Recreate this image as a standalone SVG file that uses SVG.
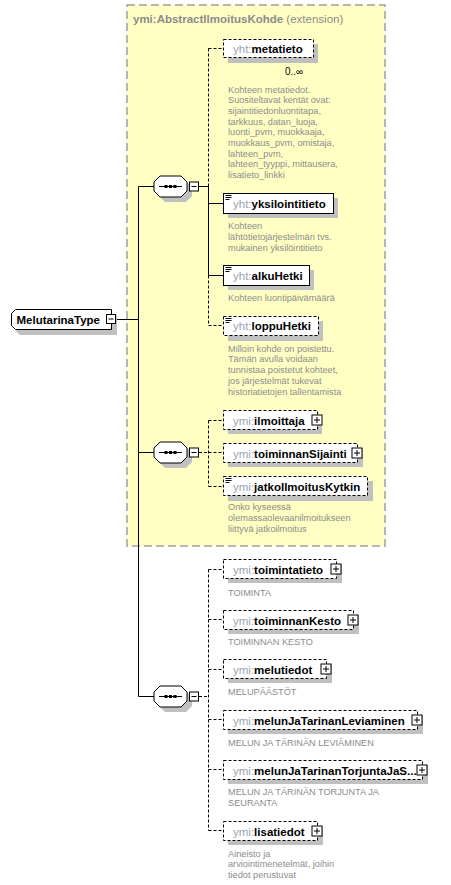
<svg xmlns="http://www.w3.org/2000/svg" width="451" height="885" viewBox="0 0 451 885">
<style>
.bg{fill:#ffffff}
.ext{fill:#ffffc4;stroke:#a0a0a0;stroke-width:1.5;stroke-dasharray:8,4}
.sh{fill:#c0c0c0;stroke:none}
.box{fill:#ffffff;stroke:#000;stroke-width:1}
.opt{fill:#ffffff;stroke:#000;stroke-width:1;stroke-dasharray:3,2}
.ln{stroke:#000;stroke-width:1;fill:none}
.dl{stroke:#000;stroke-width:1;fill:none;stroke-dasharray:3,2}
.lbl{font-family:"Liberation Sans",Arial,sans-serif;font-size:11.5px;font-weight:bold;fill:#000}
.pre{font-weight:normal;fill:#98a2b3}
.desc{font-family:"Liberation Sans",Arial,sans-serif;font-size:9.2px;fill:#8c8c8c}
.ttl{font-family:"Liberation Sans",Arial,sans-serif;font-size:11.5px;fill:#8c8c8c}
.icon{stroke:#000;stroke-width:1}
</style>
<defs>
<g id="seq">
<polygon class="sh" points="165,186 186,186 192,192 192,201 186,207 165,207 159,201 159,192"/>
<polygon class="box" points="160,181 181,181 187,187 187,196 181,202 160,202 154,196 154,187"/>
<line class="ln" x1="159" y1="191.5" x2="182" y2="191.5"/>
<rect x="164.5" y="190" width="3" height="3" fill="#000"/>
<rect x="169" y="190" width="3" height="3" fill="#000"/>
<rect x="173.5" y="190" width="3" height="3" fill="#000"/>
<rect class="box" x="189.5" y="187" width="9" height="9"/>
<line class="ln" x1="191.5" y1="191.5" x2="196.5" y2="191.5"/>
</g>
<g id="plus">
<rect class="box" x="-5" y="-5" width="10" height="10"/>
<line class="ln" x1="-3" y1="0" x2="3" y2="0"/>
<line class="ln" x1="0" y1="-3" x2="0" y2="3"/>
</g>
<g id="simp">
<line class="icon" x1="2" y1="2" x2="8" y2="2"/>
<line class="icon" x1="2" y1="4" x2="8" y2="4"/>
<line class="icon" x1="2" y1="6" x2="6" y2="6"/>
</g>
</defs>
<rect class="bg" x="0" y="0" width="451" height="885"/>

<g id="extension">
<rect class="ext" x="127" y="5" width="258" height="541"/>
<text class="ttl" x="133" y="23"><tspan font-weight="bold">ymi:AbstractIlmoitusKohde</tspan> (extension)</text>
</g>

<g id="connectors">
<line class="ln" x1="116" y1="319.5" x2="138.5" y2="319.5"/>
<line class="ln" x1="138.5" y1="186.5" x2="138.5" y2="696.5"/>
<line class="ln" x1="138.5" y1="186.5" x2="154" y2="186.5"/>
<line class="ln" x1="138.5" y1="452.5" x2="154" y2="452.5"/>
<line class="ln" x1="138.5" y1="696.5" x2="154" y2="696.5"/>
<line class="ln" x1="199" y1="186.5" x2="208.5" y2="186.5"/>
<line class="dl" x1="208.5" y1="48.5" x2="208.5" y2="186.5"/>
<line class="ln" x1="208.5" y1="186.5" x2="208.5" y2="275.5"/>
<line class="dl" x1="208.5" y1="275.5" x2="208.5" y2="325.5"/>
<line class="dl" x1="208.5" y1="48.5" x2="223" y2="48.5"/>
<line class="ln" x1="208.5" y1="203.5" x2="223" y2="203.5"/>
<line class="ln" x1="208.5" y1="275.5" x2="223" y2="275.5"/>
<line class="dl" x1="208.5" y1="325.5" x2="223" y2="325.5"/>
<line class="dl" x1="199" y1="452.5" x2="208.5" y2="452.5"/>
<line class="dl" x1="208.5" y1="420.5" x2="208.5" y2="486.5"/>
<line class="dl" x1="208.5" y1="420.5" x2="223" y2="420.5"/>
<line class="dl" x1="208.5" y1="452.5" x2="223" y2="452.5"/>
<line class="dl" x1="208.5" y1="486.5" x2="223" y2="486.5"/>
<line class="dl" x1="199" y1="696.5" x2="208.5" y2="696.5"/>
<line class="dl" x1="208.5" y1="569.5" x2="208.5" y2="830.5"/>
<line class="dl" x1="208.5" y1="569.5" x2="223" y2="569.5"/>
<line class="dl" x1="208.5" y1="619.5" x2="223" y2="619.5"/>
<line class="dl" x1="208.5" y1="669.5" x2="223" y2="669.5"/>
<line class="dl" x1="208.5" y1="719.5" x2="223" y2="719.5"/>
<line class="dl" x1="208.5" y1="769.5" x2="223" y2="769.5"/>
<line class="dl" x1="208.5" y1="830.5" x2="223" y2="830.5"/>
</g>

<g id="MelutarinaType">
<polygon class="sh" points="20,315 117,315 117,335 20,335 16,331 16,319"/>
<polygon class="box" points="15.5,309.5 111.5,309.5 111.5,329.5 15.5,329.5 11.5,325.5 11.5,313.5"/>
<text class="lbl" x="16.5" y="323.5">MelutarinaType</text>
<rect class="box" x="106.5" y="314.5" width="9" height="9"/>
<line class="ln" x1="108.5" y1="319" x2="113.5" y2="319"/>
</g>

<g id="seq1"><use href="#seq" transform="translate(0,-5)"/></g>
<g id="seq2"><use href="#seq" transform="translate(0,261)"/></g>
<g id="seq3"><use href="#seq" transform="translate(0,505)"/></g>

<g id="metatieto">
<rect class="sh" x="228" y="44" width="90" height="19"/>
<rect class="opt" x="223.5" y="39.5" width="90" height="18"/>
<text class="lbl" x="233" y="52.5"><tspan class="pre">yht:</tspan>metatieto</text>
<text x="285" y="75" font-family="Liberation Sans,Arial,sans-serif" font-size="10" fill="#000">0..∞</text>
<text class="desc"><tspan x="228" y="92.5">Kohteen metatiedot.</tspan><tspan x="228" y="103.2">Suositeltavat kentät ovat:</tspan><tspan x="228" y="113.9">sijaintitiedonluontitapa,</tspan><tspan x="228" y="124.6">tarkkuus, datan_luoja,</tspan><tspan x="228" y="135.3">luonti_pvm, muokkaaja,</tspan><tspan x="228" y="146">muokkaus_pvm, omistaja,</tspan><tspan x="228" y="156.7">lahteen_pvm,</tspan><tspan x="228" y="167.4">lahteen_tyyppi, mittausera,</tspan><tspan x="228" y="178.1">lisatieto_linkki</tspan></text>
</g>

<g id="yksilointitieto">
<rect class="sh" x="228" y="198" width="110" height="20"/>
<rect class="box" x="223.5" y="193.5" width="110" height="20"/>
<use href="#simp" transform="translate(223.5,193.5)"/>
<text class="lbl" x="233" y="207.5"><tspan class="pre">yht:</tspan>yksilointitieto</text>
<text class="desc"><tspan x="228" y="229">Kohteen</tspan><tspan x="228" y="240">lähtötietojärjestelmän  tvs.</tspan><tspan x="228" y="251">mukainen yksilöintitieto</tspan></text>
</g>

<g id="alkuHetki">
<rect class="sh" x="228" y="270" width="86" height="20"/>
<rect class="box" x="223.5" y="265.5" width="86" height="20"/>
<use href="#simp" transform="translate(223.5,265.5)"/>
<text class="lbl" x="233" y="279.5"><tspan class="pre">yht:</tspan>alkuHetki</text>
<text class="desc" x="228" y="301">Kohteen luontipäivämäärä</text>
</g>

<g id="loppuHetki">
<rect class="sh" x="228" y="321" width="95" height="20"/>
<rect class="opt" x="223.5" y="316.5" width="95" height="19"/>
<use href="#simp" transform="translate(223.5,316.5)"/>
<text class="lbl" x="233" y="330"><tspan class="pre">yht:</tspan>loppuHetki</text>
<text class="desc"><tspan x="228" y="351.5">Milloin kohde on poistettu.</tspan><tspan x="228" y="362.3">Tämän avulla voidaan</tspan><tspan x="228" y="373.1">tunnistaa poistetut kohteet,</tspan><tspan x="228" y="383.9">jos järjestelmät tukevat</tspan><tspan x="228" y="394.7">historiatietojen tallentamista</tspan></text>
</g>

<g id="ilmoittaja">
<rect class="sh" x="228" y="415" width="94" height="19"/>
<rect class="opt" x="223.5" y="410.5" width="94" height="19"/>
<text class="lbl" x="233" y="424.5"><tspan class="pre">ymi:</tspan>ilmoittaja</text>
<use href="#plus" transform="translate(317,420)"/>
</g>

<g id="toiminnanSijainti">
<rect class="sh" x="228" y="448" width="135" height="19"/>
<rect class="opt" x="223.5" y="443.5" width="134" height="19"/>
<text class="lbl" x="233" y="457.5"><tspan class="pre">ymi:</tspan>toiminnanSijainti</text>
<use href="#plus" transform="translate(357,453)"/>
</g>

<g id="jatkoIlmoitusKytkin">
<rect class="sh" x="228" y="481" width="145" height="20"/>
<rect class="opt" x="223.5" y="476.5" width="144" height="19"/>
<use href="#simp" transform="translate(223.5,476.5)"/>
<text class="lbl" x="233" y="490.5"><tspan class="pre">ymi:</tspan>jatkoIlmoitusKytkin</text>
<text class="desc"><tspan x="228" y="510">Onko kyseessä</tspan><tspan x="228" y="521">olemassaolevaanilmoitukseen</tspan><tspan x="228" y="532">liittyvä jatkoilmoitus</tspan></text>
</g>

<g id="toimintatieto">
<rect class="sh" x="228" y="564" width="114" height="19"/>
<rect class="opt" x="223.5" y="559.5" width="113" height="19"/>
<text class="lbl" x="233" y="573.5"><tspan class="pre">ymi:</tspan>toimintatieto</text>
<use href="#plus" transform="translate(336,569)"/>
<text class="desc" x="228" y="595.5">TOIMINTA</text>
</g>

<g id="toiminnanKesto">
<rect class="sh" x="228" y="615" width="131" height="19"/>
<rect class="opt" x="223.5" y="610.5" width="130" height="19"/>
<text class="lbl" x="233" y="624.5"><tspan class="pre">ymi:</tspan>toiminnanKesto</text>
<use href="#plus" transform="translate(353,620)"/>
<text class="desc" x="228" y="644.5">TOIMINNAN KESTO</text>
</g>

<g id="melutiedot">
<rect class="sh" x="228" y="664" width="104" height="19"/>
<rect class="opt" x="223.5" y="659.5" width="103" height="19"/>
<text class="lbl" x="233" y="673.5"><tspan class="pre">ymi:</tspan>melutiedot</text>
<use href="#plus" transform="translate(326,669)"/>
<text class="desc" x="228" y="694.5">MELUPÄÄSTÖT</text>
</g>

<g id="melunJaTarinanLeviaminen">
<rect class="sh" x="228" y="715" width="195" height="19"/>
<rect class="opt" x="223.5" y="710.5" width="194" height="19"/>
<text class="lbl" x="233" y="724.5"><tspan class="pre">ymi:</tspan>melunJaTarinanLeviaminen</text>
<use href="#plus" transform="translate(417,720)"/>
<text class="desc" x="228" y="745.5">MELUN JA TÄRINÄN LEVIÄMINEN</text>
</g>

<g id="melunJaTarinanTorjuntaJaSeuranta">
<rect class="sh" x="228" y="765" width="200" height="19"/>
<rect class="opt" x="223.5" y="760.5" width="199" height="19"/>
<text class="lbl" x="233" y="774.5"><tspan class="pre">ymi:</tspan>melunJaTarinanTorjuntaJaS...</text>
<use href="#plus" transform="translate(422,770)"/>
<text class="desc"><tspan x="228" y="794.5">MELUN JA TÄRINÄN TORJUNTA JA</tspan><tspan x="228" y="805.5">SEURANTA</tspan></text>
</g>

<g id="lisatiedot">
<rect class="sh" x="228" y="826" width="95" height="19"/>
<rect class="opt" x="223.5" y="821.5" width="94" height="19"/>
<text class="lbl" x="233" y="835.5"><tspan class="pre">ymi:</tspan>lisatiedot</text>
<use href="#plus" transform="translate(317,831)"/>
<text class="desc"><tspan x="228" y="856.5">Aineisto ja</tspan><tspan x="228" y="867.3">arviointimenetelmät, joihin</tspan><tspan x="228" y="878.1">tiedot perustuvat</tspan></text>
</g>
</svg>
